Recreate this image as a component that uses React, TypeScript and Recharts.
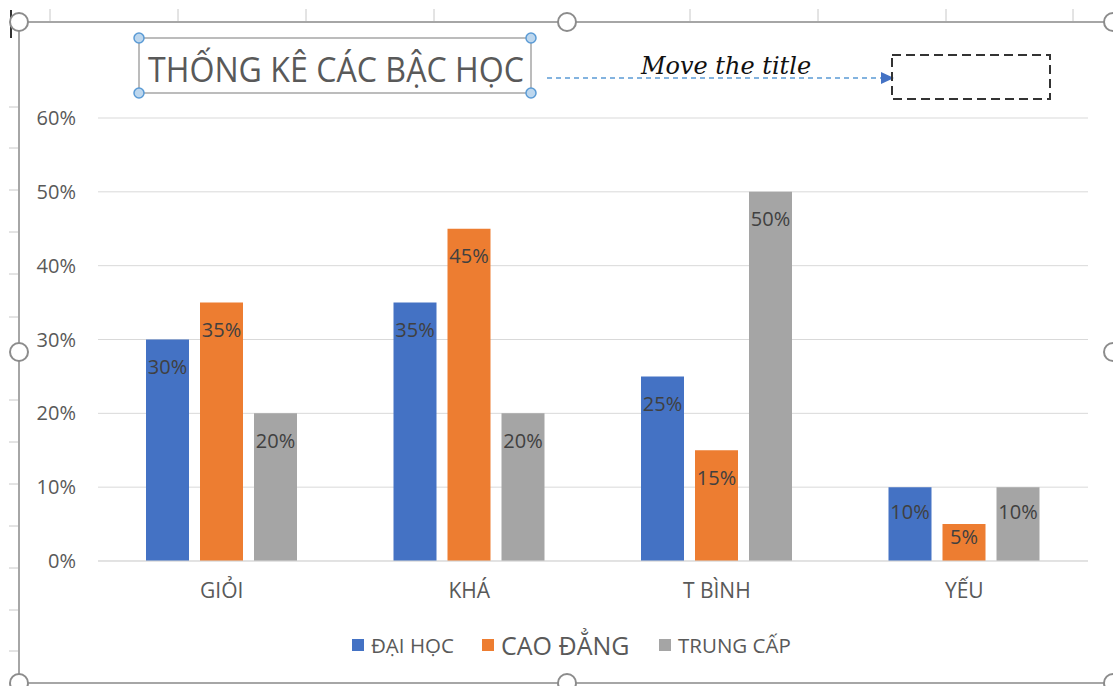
import React from "react";
import {
  BarChart,
  Bar,
  XAxis,
  YAxis,
  CartesianGrid,
  Legend,
  LabelList,
} from "recharts";

const categories = ["GIỎI", "KHÁ", "T BÌNH", "YẾU"];
const daiHoc = [30, 35, 25, 10];
const caoDang = [35, 45, 15, 5];
const trungCap = [20, 20, 50, 10];
const yTicks = [0, 10, 20, 30, 40, 50, 60];

const seriesNames = ["ĐẠI HỌC", "CAO ĐẲNG", "TRUNG CẤP"];
const seriesKeys = ["daiHoc", "caoDang", "trungCap"];
const seriesColors = ["#4472C4", "#ED7D31", "#A5A5A5"];
// the middle legend entry is set larger in the source workbook
const legendFontSizes = [20.5, 25, 20.5];

const W = 1113;
const H = 686;
const INK = "#595959";
const LABEL_INK = "#404040";
const GRID = "#d9d9d9";
const FONT = "'Open Sans', 'Noto Sans', sans-serif";

const data = categories.map((c, i) => ({
  name: c,
  daiHoc: daiHoc[i],
  caoDang: caoDang[i],
  trungCap: trungCap[i],
}));

/** Value label "inside end", pulled toward the middle on short bars. */
function InsideEndLabel(props: any) {
  const { x, y, width, height, value } = props;
  if (x == null || y == null) return null;
  const dy = Math.min(27, height * 0.33);
  return (
    <text
      x={x + width / 2}
      y={y + dy}
      textAnchor="middle"
      dominantBaseline="central"
      fill={LABEL_INK}
      fontSize={20}
      fontFamily={FONT}
    >
      {value}%
    </text>
  );
}

function LegendRow() {
  // left edge of each swatch, matching the spacing Excel gave the entries
  const swatchX = [352, 482, 659];
  return (
    <div style={{ position: "relative", height: 30, fontFamily: FONT, color: INK }}>
      {seriesNames.map((n, i) => (
        <div
          key={n}
          style={{
            position: "absolute",
            left: swatchX[i],
            top: 0,
            height: 30,
            display: "flex",
            alignItems: "center",
            whiteSpace: "nowrap",
          }}
        >
          <span
            style={{
              width: 12,
              height: 12,
              background: seriesColors[i],
              display: "inline-block",
              marginRight: 7,
            }}
          />
          <span style={{ fontSize: legendFontSizes[i], lineHeight: "30px" }}>{n}</span>
        </div>
      ))}
    </div>
  );
}

/** Excel selection chrome around the chart: rulers, frame and handles. */
function Chrome() {
  const rulerX = [50, 178, 306, 434, 690, 818, 946, 1073];
  const rulerY = [107, 148, 190, 232, 274, 317, 400, 442, 484, 526, 568, 610, 651];
  const handles: [number, number][] = [
    [19, 22],
    [567, 22],
    [1113, 22],
    [19, 352],
    [1113, 352],
    [19, 683],
    [567, 683],
    [1113, 683],
  ];
  const titleHandles: [number, number][] = [
    [139, 38],
    [531, 38],
    [139, 93],
    [531, 93],
  ];
  return (
    <svg
      width={W}
      height={H}
      style={{ position: "absolute", left: 0, top: 0, pointerEvents: "none" }}
    >
      {rulerX.map((x) => (
        <line key={x} x1={x} x2={x} y1={9} y2={21} stroke="#c8c8c8" strokeWidth={1} />
      ))}
      {rulerY.map((y) => (
        <line key={y} x1={9} x2={19} y1={y} y2={y} stroke="#c8c8c8" strokeWidth={1} />
      ))}
      <line x1={11} x2={11} y1={10} y2={38} stroke="#333" strokeWidth={2} />
      <line x1={19} x2={W} y1={22} y2={22} stroke="#a6a6a6" strokeWidth={2} />
      <line x1={19} x2={19} y1={22} y2={H} stroke="#a6a6a6" strokeWidth={2} />
      <line x1={19} x2={1108} y1={683} y2={683} stroke="#a6a6a6" strokeWidth={2} />
      {handles.map(([x, y]) => (
        <circle key={`${x}-${y}`} cx={x} cy={y} r={9} fill="#fff" stroke="#8c8c8c" strokeWidth={2} />
      ))}

      {/* title with its selection box */}
      <rect x={139} y={38} width={392} height={55} fill="none" stroke="#a6a6a6" strokeWidth={1.5} />
      {titleHandles.map(([x, y]) => (
        <circle key={`t${x}-${y}`} cx={x} cy={y} r={5} fill="#bdd7ee" stroke="#5b9bd5" strokeWidth={1.5} />
      ))}
      <text
        x={148}
        y={82}
        fontSize={35}
        fontFamily={FONT}
        fill={INK}
        textLength={376}
        lengthAdjust="spacingAndGlyphs"
      >
        THỐNG KÊ CÁC BẬC HỌC
      </text>

      {/* "move the title" annotation */}
      <line x1={547} x2={884} y1={78} y2={78} stroke="#5b9bd5" strokeWidth={1.5} strokeDasharray="5 4" />
      <polygon points="881,72 894,78 881,84" fill="#4472C4" />
      <text
        x={726}
        y={74}
        textAnchor="middle"
        fontSize={24}
        fontStyle="italic"
        fontFamily="'DejaVu Serif', serif"
        fill="#111"
      >
        Move the title
      </text>
      <rect x={892} y={55} width={158} height={44} fill="none" stroke="#333" strokeWidth={2} strokeDasharray="9 5" />
    </svg>
  );
}

export default function App() {
  return (
    <div style={{ position: "absolute", left: 0, top: 0, width: W, height: H, background: "#fff" }}>
      <BarChart
        width={W}
        height={H}
        data={data}
        margin={{ top: 118, right: 25, bottom: 85, left: 0 }}
        barSize={43}
        barGap={11}
      >
        <CartesianGrid stroke={GRID} vertical={false} />
        <XAxis
          dataKey="name"
          height={40}
          axisLine={{ stroke: GRID }}
          tickLine={false}
          tickSize={0}
          tickMargin={22}
          tick={{ fill: INK, fontSize: 21, fontFamily: FONT }}
        />
        <YAxis
          width={98}
          domain={[0, 60]}
          ticks={yTicks}
          axisLine={false}
          tickLine={false}
          tickSize={0}
          tickMargin={22}
          tickFormatter={(v: number) => `${v}%`}
          tick={{ fill: INK, fontSize: 20, fontFamily: FONT }}
        />
        <Legend
          layout="horizontal"
          verticalAlign="middle"
          wrapperStyle={{ top: 630, left: 0, width: W }}
          content={() => <LegendRow />}
        />
        {seriesKeys.map((k, i) => (
          <Bar key={k} dataKey={k} name={seriesNames[i]} fill={seriesColors[i]} isAnimationActive={false}>
            <LabelList dataKey={k} content={<InsideEndLabel />} />
          </Bar>
        ))}
      </BarChart>
      <Chrome />
    </div>
  );
}
